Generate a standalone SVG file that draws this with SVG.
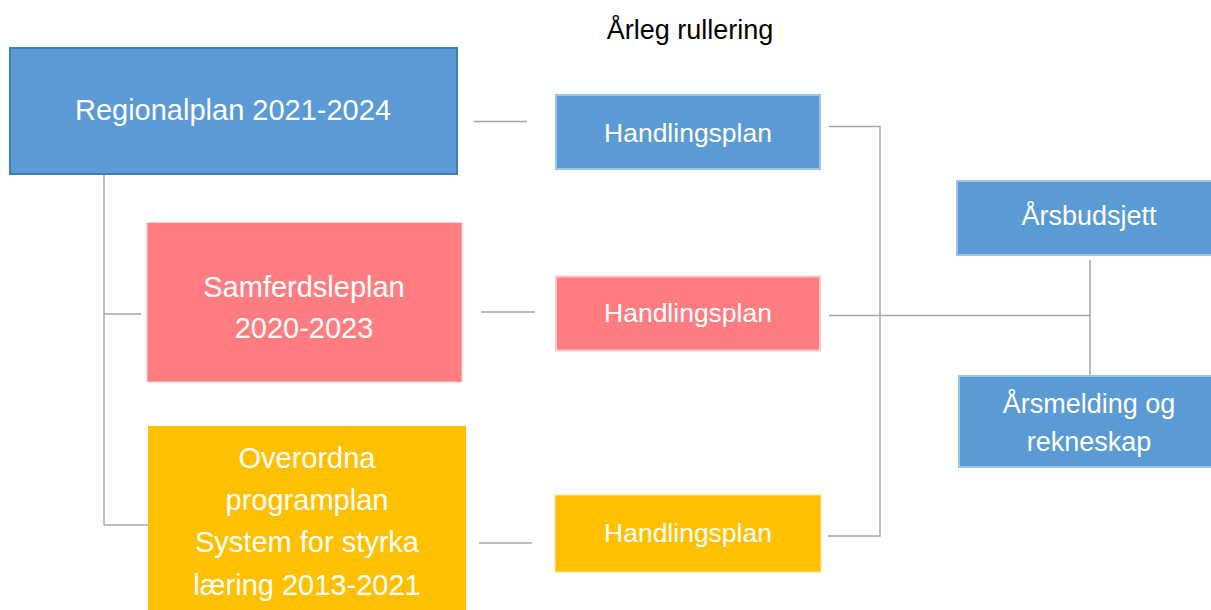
<svg xmlns="http://www.w3.org/2000/svg" width="1211" height="610" viewBox="0 0 1211 610">
<style>
text{font-family:"Liberation Sans",Arial,sans-serif;fill:#ffffff;text-anchor:middle}
.blue{fill:#5b9bd5}
.pink{fill:#ff7c80}
.gold{fill:#ffc000}
.conn{stroke:#a6a6a6;stroke-width:1.5;fill:none}
.t26{font-size:26.5px}
.t29{font-size:29px}
</style>
<rect width="1211" height="610" fill="#ffffff"/>
<text x="690" y="39" style="fill:#000000;font-size:27px">Årleg rullering</text>
<g id="connectors">
<path class="conn" d="M104 175 V525 M104 314 H141 M104 525 H148"/>
<path class="conn" d="M474 121.5 H527"/>
<path class="conn" d="M481 312 H535"/>
<path class="conn" d="M479 543 H532"/>
<path class="conn" d="M829 126.5 H880 V536 H828"/>
<path class="conn" d="M829 315.5 H1090"/>
<path class="conn" d="M1090 260 V375"/>
</g>
<g id="regionalplan">
<rect x="10" y="48" width="447" height="126" class="blue" stroke="#3f7dbf" stroke-width="2"/>
<text x="233" y="120" style="font-size:29px">Regionalplan 2021-2024</text>
</g>
<g id="handlingsplan1">
<rect x="556" y="95" width="264" height="74" class="blue" stroke="#9dc3e6" stroke-width="2"/>
<text x="688" y="142" class="t26">Handlingsplan</text>
</g>
<g id="samferdsleplan">
<rect x="147" y="222.5" width="315" height="159.5" class="pink" stroke="#ffd0d2" stroke-width="1"/>
<text x="304" y="297" class="t29">Samferdsleplan</text>
<text x="304" y="338" class="t29">2020-2023</text>
</g>
<g id="handlingsplan2">
<rect x="556" y="276.5" width="264" height="74" class="pink" stroke="#ffc7c9" stroke-width="2"/>
<text x="688" y="322" class="t26">Handlingsplan</text>
</g>
<g id="overordna">
<rect x="148" y="426" width="318" height="190" class="gold"/>
<text x="307" y="468" class="t29">Overordna</text>
<text x="307" y="510" class="t29">programplan</text>
<text x="307" y="552" class="t29">System for styrka</text>
<text x="307" y="595" class="t29">læring 2013-2021</text>
</g>
<g id="handlingsplan3">
<rect x="555" y="495" width="266" height="77" class="gold" stroke="#ffe699" stroke-width="1"/>
<text x="688" y="542" class="t26">Handlingsplan</text>
</g>
<g id="arsbudsjett">
<rect x="957" y="181" width="260" height="74" class="blue" stroke="#9dc3e6" stroke-width="2"/>
<text x="1089" y="225" style="font-size:27px">Årsbudsjett</text>
</g>
<g id="arsmelding">
<rect x="959" y="376" width="258" height="91" class="blue" stroke="#9dc3e6" stroke-width="2"/>
<text x="1089" y="413" style="font-size:27px">Årsmelding og</text>
<text x="1089" y="451" style="font-size:27px">rekneskap</text>
</g>
</svg>
